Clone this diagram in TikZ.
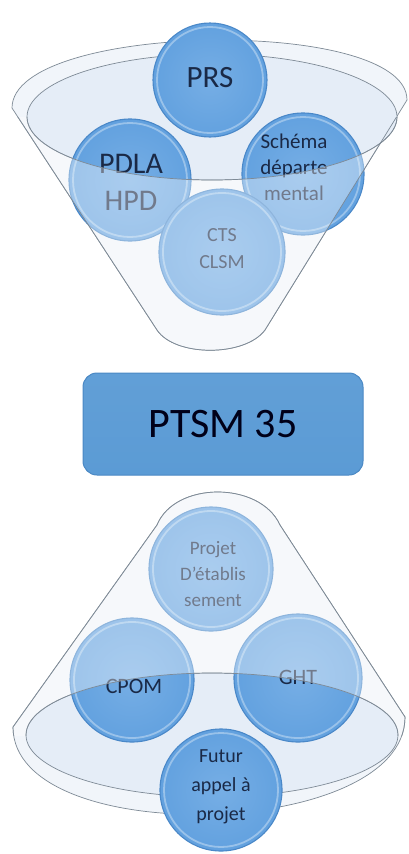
\documentclass[tikz,border=0pt]{standalone}
\usepackage{fontspec}
\setmainfont{Carlito}
\usetikzlibrary{shapes.geometric}
\definecolor{bubfill}{HTML}{62A1DF}
\definecolor{bubin}{HTML}{76AEE5}
\definecolor{bubedge}{HTML}{4A88C8}
\definecolor{txtdark}{HTML}{1A2946}
\definecolor{glass}{HTML}{F1F5FA}
\definecolor{glassin}{HTML}{E5EDF7}
\definecolor{glassline}{HTML}{7E8A96}
\definecolor{boxfill}{HTML}{5B9BD5}
\definecolor{boxedge}{HTML}{4A88C4}
\newcommand{\mybubble}[4]{%
  \node[bub, minimum size=#4*2pt] (#1) at (#2,#3) {};
  \draw[bevel] (#1.center) circle ({#4-4});
}
\begin{document}
\begin{tikzpicture}[x=1pt,y=-1pt,
  bub/.style={circle, inner sep=0pt, draw=bubedge, line width=1.1pt,
    inner color=bubin, outer color=bubfill},
  bevel/.style={draw=white, draw opacity=0.35, line width=1.8pt},
  txt/.style={align=center, text=txtdark, inner sep=0pt},
  glassedge/.style={draw=glassline, line width=0.7pt},
  veil/.style={fill=white, fill opacity=0.38}]
\useasboundingbox (0,0) rectangle (409,854);
\fill[white] (0,0) rectangle (409,854);

% ---------------- top funnel ----------------
\def\topfunnel{(12,108) -- (157,330) .. controls (175,357) and (245,357) .. (265,330) -- (407,100) .. controls (407,16) and (12,22) .. (12,108) -- cycle}
\def\topellipse{(212,117) ellipse [x radius=185, y radius=63]}
\path[fill=glass, glassedge] \topfunnel;
\path[fill=glassin, glassedge] \topellipse;

\mybubble{prs}{210}{80}{57}
\node[txt, font=\fontsize{31}{37}\selectfont] (tprs) at (210,78) {PRS};
\mybubble{pdla}{130}{180}{61}
\node[txt, font=\fontsize{30}{37}\selectfont] (tpdla) at (131,182) {PDLA\\HPD};
\mybubble{schema}{303}{174}{61}
\node[txt, font=\fontsize{21}{26}\selectfont] (tschema) at (294,167) {Schéma\\départe\\mental};
\mybubble{cts}{222}{252}{63}
\node[txt, font=\fontsize{20}{27}\selectfont] (tcts) at (222,249) {CTS\\CLSM};

\begin{scope}
  \clip (0,117) rectangle (409,400);
  \clip \topfunnel;
  \path[veil, even odd rule] \topfunnel \topellipse;
\end{scope}
\begin{scope}
  \clip (0,117) rectangle (409,400);
  \path[glassedge] \topfunnel;
  \path[glassedge] \topellipse;
\end{scope}

% ---------------- central box ----------------
\node[draw=boxedge, line width=1pt, top color=boxfill!96!white, bottom color=boxfill,
  rounded corners=14pt, minimum width=280pt, minimum height=102pt,
  text=black!90!blue, font=\fontsize{42}{50}\selectfont] (ptsm) at (223,424) {PTSM 35};

% ---------------- bottom cone ----------------
\def\botcone{(13,727) -- (157,525) .. controls (175,481) and (260,481) .. (280,525) -- (405,717) .. controls (405,840) and (13,850) .. (13,727) -- cycle}
\def\botellipse{(212,735) ellipse [x radius=186, y radius=62]}
\path[fill=glass, glassedge] \botcone;
\path[fill=glassin, glassedge] \botellipse;

\mybubble{projet}{211}{569}{62}
\node[txt, font=\fontsize{19}{26}\selectfont] (tprojet) at (213,574) {Projet\\D'établis\\sement};
\mybubble{cpom}{132}{680}{62}
\node[txt, font=\fontsize{22}{26}\selectfont] (tcpom) at (134,686) {CPOM};
\mybubble{ght}{298}{678}{64}
\node[txt, font=\fontsize{22}{26}\selectfont] (tght) at (298,677) {GHT};

\begin{scope}
  \clip (0,400) rectangle (409,735);
  \clip \botcone;
  \path[veil, even odd rule] \botcone \botellipse;
\end{scope}
\begin{scope}
  \clip (0,400) rectangle (409,735);
  \path[glassedge] \botcone;
  \path[glassedge] \botellipse;
\end{scope}

\mybubble{futur}{221}{790}{61}
\node[txt, font=\fontsize{20}{29}\selectfont] (tfutur) at (221,787) {Futur\\appel à\\projet};
\end{tikzpicture}
\end{document}
